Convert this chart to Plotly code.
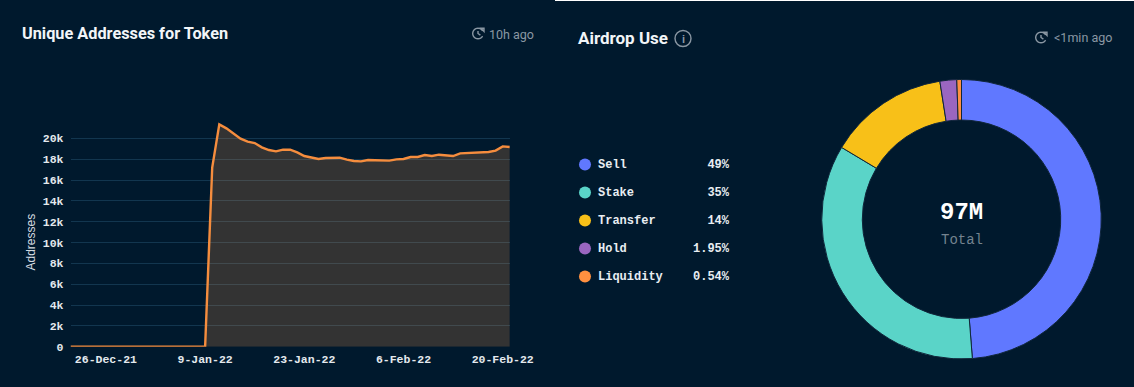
import math
import pandas as pd
import plotly.graph_objects as go

W, H = 1134, 387
BG = "#00192d"

# ---- data ----
dates = pd.date_range("2021-12-21", "2022-02-21", freq="D").strftime("%Y-%m-%d").tolist()
addresses = [
    0, 0, 0, 0, 0, 0, 0, 0, 0, 0,
    0, 0, 0, 0, 0, 0, 0, 0, 0, 0,
    17200, 21340, 20960, 20480, 19970, 19680, 19550, 19140, 18880, 18750,
    18910, 18910, 18650, 18300, 18140, 18020, 18110, 18140, 18140, 17950,
    17820, 17790, 17920, 17890, 17860, 17860, 17980, 18020, 18210, 18210,
    18400, 18300, 18430, 18370, 18300, 18560, 18590, 18590, 18690, 18690,
    18820, 19230, 19170,
]
x_ticks = ["2021-12-26", "2022-01-09", "2022-01-23", "2022-02-06", "2022-02-20"]
x_labels = ["26-Dec-21", "9-Jan-22", "23-Jan-22", "6-Feb-22", "20-Feb-22"]
y_ticks = [0, 2000, 4000, 6000, 8000, 10000, 12000, 14000, 16000, 18000, 20000]
y_labels = ["0", "2k", "4k", "6k", "8k", "10k", "12k", "14k", "16k", "18k", "20k"]

uses = ["Sell", "Stake", "Transfer", "Hold", "Liquidity"]
use_values = [49, 35, 14, 1.95, 0.54]
use_labels = ["49%", "35%", "14%", "1.95%", "0.54%"]
use_colors = ["#6078ff", "#5ad4c8", "#f8c018", "#9a66c0", "#ff9040"]


def px(x):
    return x / W


def py(y):
    return 1 - y / H


fig = go.Figure()

fig.add_trace(go.Scatter(
    x=dates, y=addresses, mode="lines", fill="tozeroy",
    line=dict(color="#f58d3e", width=2.4),
    fillcolor="rgba(255,155,75,0.2)", hoverinfo="skip", showlegend=False,
    xaxis="x", yaxis="y",
))

fig.add_trace(go.Pie(
    labels=uses, values=use_values, sort=False, direction="clockwise", rotation=0,
    hole=0.71, textinfo="none", showlegend=False, hoverinfo="skip",
    marker=dict(colors=use_colors, line=dict(color="#10263a", width=1)),
    domain=dict(x=[px(961.5 - 140), px(961.5 + 140)], y=[py(359), py(79.5)]),
))

LEG_FONT = dict(family="Liberation Mono", size=12, color="#e8edf2")
fig.add_trace(go.Scatter(
    x=[15] * 5, y=uses, mode="markers",
    marker=dict(size=12, color=use_colors),
    hoverinfo="skip", showlegend=False, xaxis="x2", yaxis="y2",
))
fig.add_trace(go.Scatter(
    x=[28] * 5, y=uses, mode="text", text=[f"<b>{u}</b>" for u in uses],
    textposition="middle right", textfont=LEG_FONT,
    hoverinfo="skip", showlegend=False, xaxis="x2", yaxis="y2",
))
fig.add_trace(go.Scatter(
    x=[159] * 5, y=uses, mode="text", text=[f"<b>{u}</b>" for u in use_labels],
    textposition="middle left", textfont=LEG_FONT,
    hoverinfo="skip", showlegend=False, xaxis="x2", yaxis="y2",
))


def note(x, y, text, size, color, family, anchor="left", angle=0, bold=False):
    if bold:
        text = f"<b>{text}</b>"
    fig.add_annotation(
        x=px(x), y=py(y), xref="paper", yref="paper", text=text, showarrow=False,
        xanchor=anchor, yanchor="middle", textangle=angle,
        font=dict(size=size, color=color, family=family),
    )


SANS = "Roboto"
note(20, 33, "Unique Addresses for Token", 16.3, "#f2f5f8", SANS, bold=True)
note(487, 34, "10h ago", 12.5, "#8a97a3", SANS)
note(576, 38, "Airdrop Use", 17, "#f2f5f8", SANS, bold=True)
note(1052, 38, "&lt;1min ago", 12.5, "#8a97a3", SANS)
note(30.5, 242, "Addresses", 12, "#d5dbe0", "Liberation Sans", anchor="center", angle=-90)
note(961.5, 212, "97M", 24, "#ffffff", "Liberation Mono", anchor="center", bold=True)
note(961.5, 240, "Total", 14, "#74838f", "Liberation Mono", anchor="center")
note(683, 38.5, "i", 11, "#8a97a3", "Liberation Sans", anchor="center", bold=True)


def clock(cx, cy):
    r = 5.3
    P = lambda dx, dy: f"{px(cx + dx)},{py(cy + dy)}"
    ring = [P(r * math.cos(math.radians(a)), r * math.sin(math.radians(a)))
            for a in range(-30, -331, -15)]
    path = (
        "M " + " L ".join(ring) + " "
        f"M {P(0, -2.6)} L {P(0, 0)} L {P(2.4, 1.6)} "
        f"M {P(3, -5.2)} L {P(6, -5.2)} L {P(6, -2)} Z"
    )
    fig.add_shape(type="path", path=path, xref="paper", yref="paper",
                  line=dict(color="#8a97a3", width=1.4))


for cx, cy in [(478, 33.5), (1041, 37.5)]:
    clock(cx, cy)

fig.add_shape(type="circle", x0=px(675), x1=px(691), y0=py(46.5), y1=py(30.5),
              xref="paper", yref="paper", line=dict(color="#8a97a3", width=1.4))
fig.add_shape(type="rect", x0=px(555), x1=1, y0=py(1), y1=1, xref="paper", yref="paper",
              line=dict(width=0), fillcolor="#ffffff")

GRID = "#12364f"
TICK = dict(family="Liberation Mono", size=11.5, color="#e4e9ee")
fig.update_layout(
    width=W, height=H, autosize=False,
    margin=dict(l=0, r=0, t=0, b=0, pad=0),
    paper_bgcolor=BG, plot_bgcolor=BG,
    xaxis=dict(
        domain=[px(70.5), px(509.8)], automargin=False,
        range=["2021-12-21", "2022-02-21"], type="date",
        tickvals=x_ticks, ticktext=[f"<b>{t}</b>" for t in x_labels],
        showgrid=False, zeroline=False, showline=False, ticks="", tickfont=TICK,
        ticklabelstandoff=4,
    ),
    yaxis=dict(
        domain=[py(346.7), py(117.5)], automargin=False,
        range=[0, 22000], tickvals=y_ticks, ticktext=[f"<b>{t}</b>" for t in y_labels],
        showgrid=True, gridcolor=GRID, gridwidth=1, zeroline=False, showline=False,
        ticks="", tickfont=TICK, ticklabelstandoff=6,
    ),
    xaxis2=dict(domain=[px(570), px(740)], range=[0, 170], visible=False, anchor="y2"),
    yaxis2=dict(domain=[py(290.5), py(150.5)], visible=False, anchor="x2",
                type="category", categoryorder="array", categoryarray=uses,
                range=[4.5, -0.5]),
)

fig.write_html("out.html", config={"displayModeBar": False},
               post_script="document.body.style.margin='0';")
